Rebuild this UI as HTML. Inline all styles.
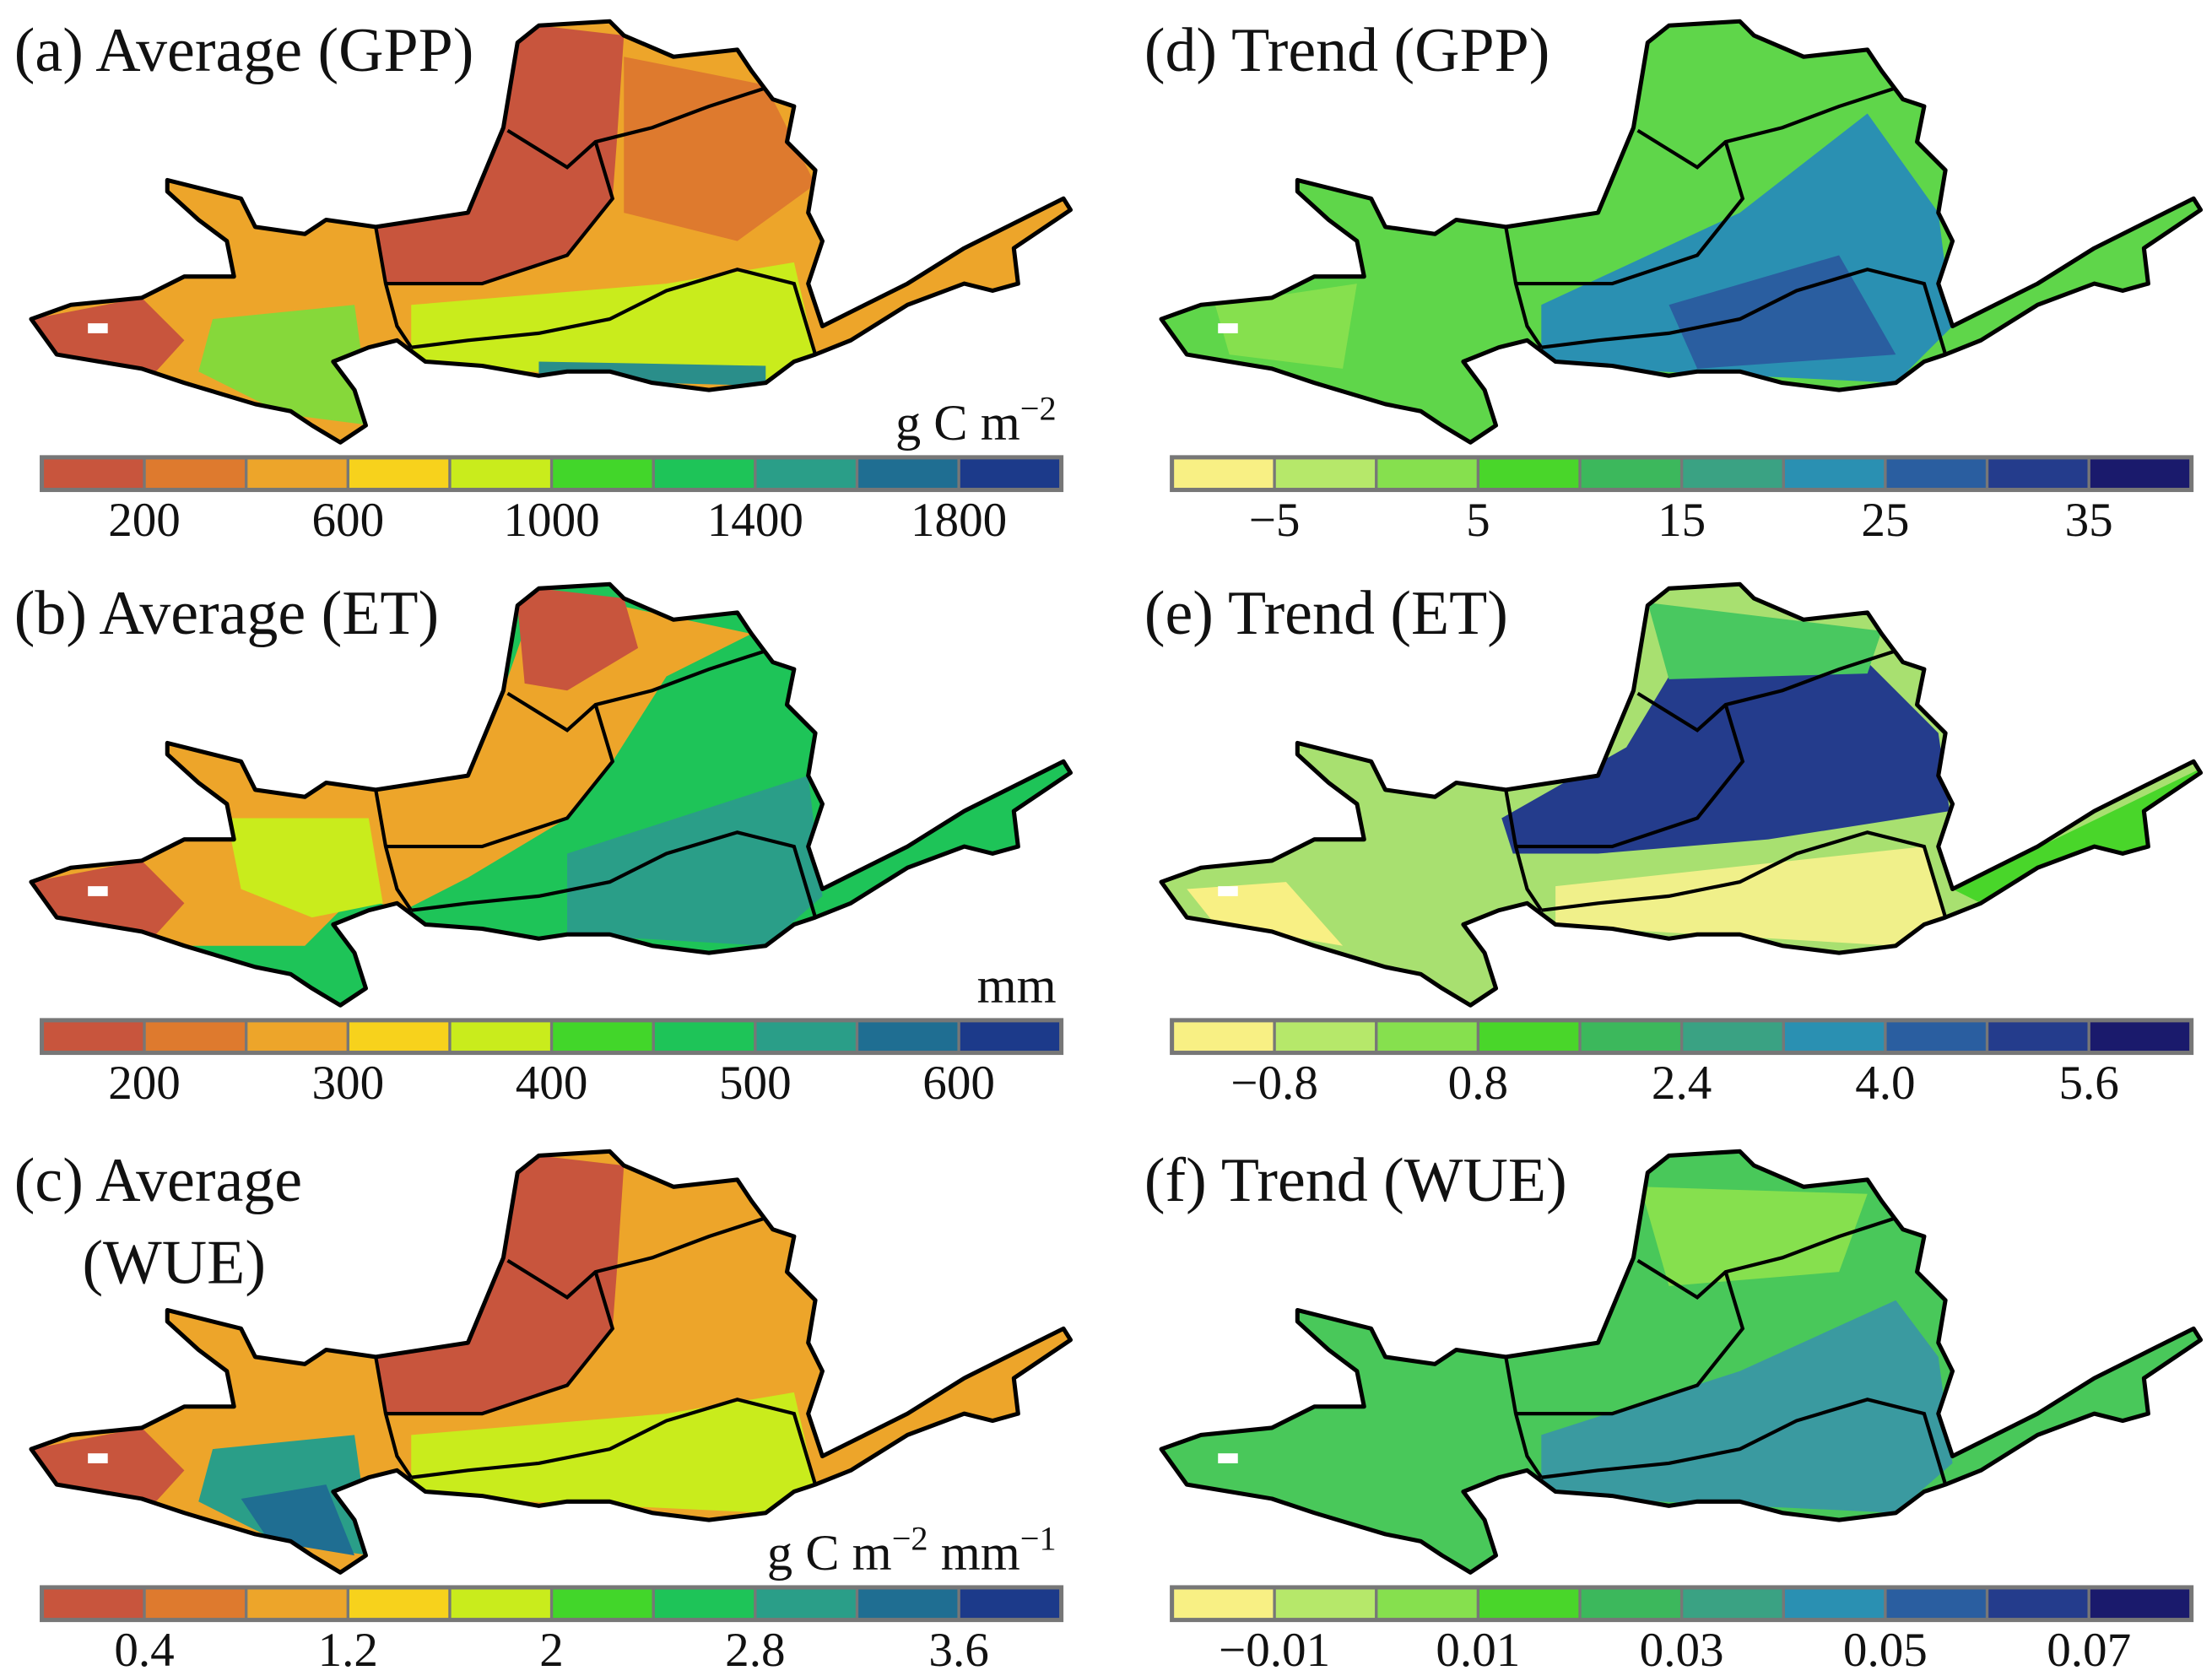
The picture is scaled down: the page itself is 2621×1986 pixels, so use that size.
<!DOCTYPE html>
<html><head><meta charset="utf-8"><style>
html,body{margin:0;padding:0;background:#fff;}
svg{display:block;}
text{font-family:"Liberation Serif",serif;fill:#111;}
</style></head><body>
<svg id="fig" width="2621" height="1986" viewBox="0 0 1560 1182" xmlns="http://www.w3.org/2000/svg">
<defs>
<clipPath id="basin"><polygon id="bpoly" points=""/></clipPath>
</defs>
<g id="maps"></g>
<g id="bars"></g>
</svg>
<script>
// Colorbar data
const avgColors=['#c8553d','#de7a2e','#eda52a','#f7d21c','#c9ec1c','#42d62a','#1ec458','#2a9e88','#1f6e92','#1c3a8a'];
const trendColors=['#f8f084','#b6e86a','#86e04e','#49d62a','#3cb85c','#3aa283','#2a90b2','#2a5ea0','#243c8c','#1a1a6c'];
const ticksGPP=['200','600','1000','1400','1800'];
const ticksET=['200','300','400','500','600'];
const ticksWUE=['0.4','1.2','2','2.8','3.6'];
const ticksTGPP=['\u22125','5','15','25','35'];
const ticksTET=['\u22120.8','0.8','2.4','4.0','5.6'];
const ticksTWUE=['\u22120.01','0.01','0.03','0.05','0.07'];

const NS='http://www.w3.org/2000/svg';
const outline=[[118,127],[170,140],[180,160],[215,165],[230,155],[265,160],[330,150],[355,90],[365,30],[380,18],[430,15],[440,25],[475,40],[520,35],[530,50],[545,70],[560,75],[555,100],[575,120],[570,150],[580,170],[570,200],[580,230],[610,215],[640,200],[680,175],[720,155],[750,140],[755,148],[715,175],[718,200],[700,205],[680,200],[640,215],[600,240],[575,250],[560,255],[540,270],[500,275],[460,270],[430,262],[400,262],[380,265],[340,258],[300,255],[280,240],[260,245],[235,255],[250,275],[258,300],[240,312],[220,300],[205,290],[180,285],[130,270],[100,260],[70,255],[40,250],[22,225],[50,215],[100,210],[130,195],[165,195],[160,170],[140,155],[118,135]];
const inner=[
 [[265,160],[272,200],[280,230],[290,245]],
 [[290,245],[330,240],[380,235],[430,225],[470,205],[520,190],[560,200],[575,250]],
 [[358,92],[400,118],[420,100],[460,90],[500,75],[540,62]],
 [[420,100],[432,140],[400,180],[340,200],[272,200]]
];
document.getElementById('bpoly').setAttribute('points',outline.map(p=>p.join(',')).join(' '));
const north=[[265,160],[330,150],[355,90],[365,30],[380,18],[440,25],[435,100],[432,140],[400,180],[340,200],[272,200]];
const westTip=[[22,225],[100,210],[130,240],[110,262],[40,250]];
const southE=[[290,215],[470,200],[560,185],[575,250],[540,270],[290,258]];
const sw=[[150,225],[250,215],[262,300],[200,292],[140,262]];
const layers={
 a:['#eda52a',[['#c8553d',north],['#c8553d',westTip],['#c9ec1c',southE],['#86d83a',sw],['#de7a2e',[[440,40],[540,60],[575,130],[520,170],[440,150]]],['#2a8e8a',[[380,255],[540,258],[540,272],[380,268]]]]],
 b:['#1ec458',[['#eda52a',[[22,225],[118,127],[265,160],[355,90],[380,18],[530,50],[470,80],[432,140],[400,180],[330,222],[285,245],[250,235],[215,270],[130,270],[40,250]]],['#c8553d',[[365,30],[380,18],[440,25],[450,60],[400,90],[370,85]]],['#c9ec1c',[[160,180],[260,180],[270,240],[220,250],[170,230]]],['#2a9e88',[[400,205],[570,150],[580,235],[540,270],[400,262]]],['#c8553d',westTip]]],
 c:['#eda52a',[['#c8553d',north],['#c8553d',westTip],['#c9ec1c',southE],['#2a9e88',sw],['#1f6e92',[[170,260],[230,250],[250,300],[190,290]]]]],
 d:['#5fd64a',[['#2a90b2',[[290,215],[430,150],[520,80],[570,150],[580,230],[540,270],[290,258]]],['#2a5ea0',[[380,215],[500,180],[540,250],[400,260]]],['#86e04e',[[60,215],[160,200],[150,260],[70,250]]]]],
 e:['#a8e070',[['#243c8c',[[262,180],[350,130],[380,80],[520,70],[570,120],[578,175],[450,195],[330,205],[270,205]]],['#49c860',[[365,28],[530,48],[520,78],[380,82]]],['#f0f08a',[[300,228],[560,200],[575,250],[540,270],[300,256]]],['#f8f084',[[40,230],[110,225],[150,270],[60,255]]],['#49d62a',[[580,230],[755,145],[718,200],[600,240]]]]],
 f:['#49c85a',[['#3a9aa0',[[290,215],[430,170],[540,120],[570,160],[580,235],[540,270],[290,258]]],['#86e04e',[[360,40],[520,45],[500,100],[380,110]]]]]
};
const panels=[
 {k:'a',dx:0,dy:0,title:['(a) Average (GPP)'],unit:'g C m',sup:'\u22122',colors:avgColors,ticks:ticksGPP},
 {k:'b',dx:0,dy:397,title:['(b) Average (ET)'],unit:'mm',sup:'',colors:avgColors,ticks:ticksET},
 {k:'c',dx:0,dy:797,title:['(c) Average','(WUE)'],unit:'g C m',sup:'\u22122',unit2:' mm',sup2:'\u22121',colors:avgColors,ticks:ticksWUE},
 {k:'d',dx:797,dy:0,title:['(d) Trend (GPP)'],colors:trendColors,ticks:ticksTGPP},
 {k:'e',dx:797,dy:397,title:['(e) Trend (ET)'],colors:trendColors,ticks:ticksTET},
 {k:'f',dx:797,dy:797,title:['(f) Trend (WUE)'],colors:trendColors,ticks:ticksTWUE}
];
function el(tag,attrs,parent){const e=document.createElementNS(NS,tag);for(const a in attrs)e.setAttribute(a,attrs[a]);parent.appendChild(e);return e;}
const maps=document.getElementById('maps'),bars=document.getElementById('bars');
const pts=a=>a.map(p=>p.join(',')).join(' ');
panels.forEach(p=>{
 const g=el('g',{transform:`translate(${p.dx},${p.dy})`},maps);
 
 
 const cg=el('g',{'clip-path':'url(#basin)'},g);
 const L=layers[p.k];
 el('rect',{x:0,y:0,width:780,height:330,fill:L[0]},cg);
 L[1].forEach(l=>el('polygon',{points:pts(l[1]),fill:l[0]},cg));
 el('rect',{x:62,y:228,width:14,height:7,fill:'#fff'},cg);
 const ol=el('polygon',{points:pts(outline),fill:'none',stroke:'#000','stroke-width':3,'stroke-linejoin':'round'},g);
 
 
 inner.forEach(l=>el('polyline',{points:pts(l),fill:'none',stroke:'#000','stroke-width':2.5},g));
 p.title.forEach((t,i)=>{
  const tx=el('text',{x:i?58:10,y:50+i*58,'font-size':44},g);tx.textContent=t;
  
  
 });
 if(p.unit){
  const u=el('text',{x:745,y:310,'font-size':36,'text-anchor':'end'},g);
  
  
  let s=p.unit;
  const t1=el('tspan',{},u);t1.textContent=s;
  if(p.sup){const t2=el('tspan',{dy:-14,'font-size':24},u);t2.textContent=p.sup;}
  if(p.unit2){const t3=el('tspan',{dy:14},u);t3.textContent=p.unit2;const t4=el('tspan',{dy:-14,'font-size':24},u);t4.textContent=p.sup2;}
 }
 // colorbar
 const bx=30+p.dx,by=323+p.dy,bw=718,bh=22,cw=bw/p.colors.length;
 const cb=el('g',{},bars);
 
 
 el('rect',{x:bx-2,y:by-2,width:bw+4,height:bh+4,fill:'#777'},cb);
 p.colors.forEach((c,i)=>{
  const r=el('rect',{x:bx+i*cw+1,y:by+1,width:cw-2,height:bh-2,fill:c},cb);
  
  
 });
 p.ticks.forEach((t,i)=>{
  const tx=el('text',{x:bx+(2*i+1)*cw,y:by+55,'font-size':34,'text-anchor':'middle'},cb);
  tx.textContent=t;
  
  
 });
});
</script>
</body></html>
